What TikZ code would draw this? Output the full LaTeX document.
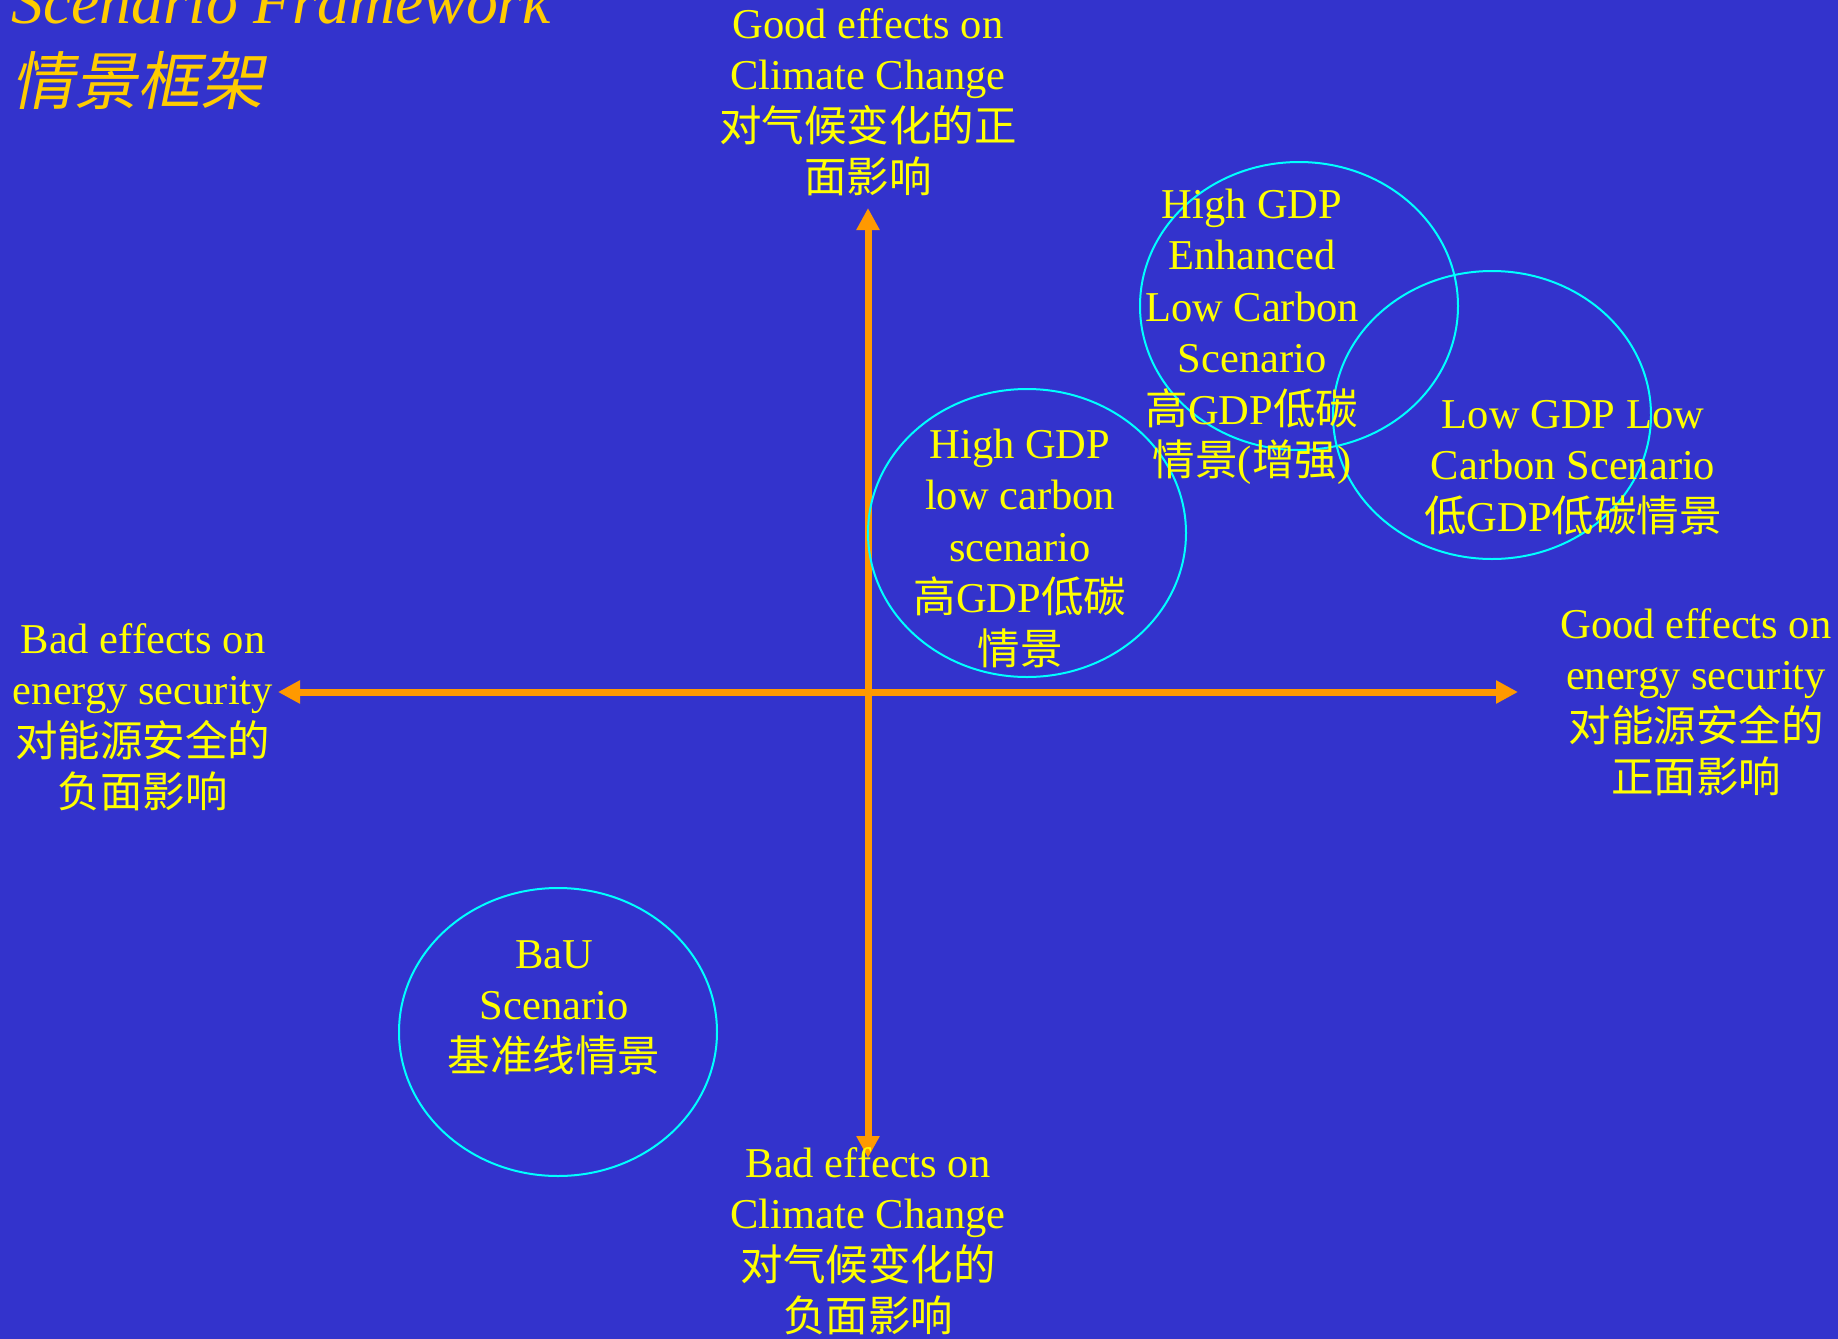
\documentclass[tikz,border=0pt]{standalone}
\usepackage{fontspec}
\setmainfont{Liberation Serif}
\newfontfamily\cjkfont{Noto Sans CJK SC}
\newfontfamily\cjkslant[FakeSlant=0.2]{Noto Sans CJK SC}
\usetikzlibrary{arrows.meta,shapes.geometric}
\definecolor{bgblue}{HTML}{3333CC}
\definecolor{txtyellow}{HTML}{FFFF00}
\definecolor{titlegold}{HTML}{FFCC00}
\definecolor{axisorange}{HTML}{FF9900}
\definecolor{ringcyan}{HTML}{00FFFF}
\newcommand\zhtext[1]{{\cjkfont #1}}
\newcommand\fstrut{\rule{0pt}{19pt}}
\begin{document}
\begin{tikzpicture}[x=0.5pt,y=-0.5pt,
  lbl/.style={text=txtyellow, align=center, anchor=north, inner sep=0pt,
    font=\fontsize{21.25}{25.7}\selectfont},
  ring/.style={ellipse, draw=ringcyan, line width=1pt, minimum width=159pt,
    minimum height=144pt, inner sep=0pt},
  axis/.style={draw=axisorange, line width=3.5pt,
    {Triangle[length=11pt,width=11pt]}-{Triangle[length=11pt,width=11pt]}},
  ttl/.style={anchor=base west, inner sep=0pt, text=titlegold}]
\path[use as bounding box, fill=bgblue] (0,0) rectangle (1838,1339);

% title
\node[ttl, font=\fontsize{31.85}{38}\selectfont\itshape] (title) at (11,23) {Scenario Framework};
\node[ttl, font=\fontsize{31.5}{38}\selectfont\cjkslant] (titlecn) at (11,104) {情景框架};

% axes
\coordinate (W) at (278,692);
\coordinate (E) at (1518,692);
\coordinate (N) at (868,208);
\coordinate (S) at (868,1158);
\draw[axis] (W) -- (E);
\draw[axis] (S) -- (N);

% rings
\node[ring] (rmid) at (1027,533) {};
\node[ring] (rhigh) at (1299,306) {};
\node[ring] (rlow) at (1492,415) {};
\node[ring] (rbau) at (558,1032) {};

% axis labels
\node[lbl] (top) at (868,0) {\fstrut Good effects on\\Climate Change\\\zhtext{对气候变化的正}\\\zhtext{面影响}};
\node[lbl] (left) at (143,615) {\fstrut Bad effects on\\energy security\\\zhtext{对能源安全的}\\\zhtext{负面影响}};
\node[lbl] (right) at (1696,600) {\fstrut Good effects on\\energy security\\\zhtext{对能源安全的}\\\zhtext{正面影响}};
\node[lbl] (bottom) at (868,1139) {\fstrut Bad effects on\\Climate Change\\\zhtext{对气候变化的}\\\zhtext{负面影响}};

% scenario labels
\node[lbl] (tmid) at (1020,420) {\fstrut High GDP\\low carbon\\scenario\\\zhtext{高}GDP\zhtext{低碳}\\\zhtext{情景}};
\node[lbl] (thigh) at (1252,180) {\fstrut High GDP\\Enhanced\\Low Carbon\\Scenario\\\zhtext{高}GDP\zhtext{低碳}\\\zhtext{情景}(\zhtext{增强})};
\node[lbl] (tlow) at (1573,390) {\fstrut Low GDP Low\\Carbon Scenario\\\zhtext{低}GDP\zhtext{低碳情景}};
\node[lbl] (tbau) at (554,930) {\fstrut BaU\\Scenario\\\zhtext{基准线情景}};
\end{tikzpicture}
\end{document}
